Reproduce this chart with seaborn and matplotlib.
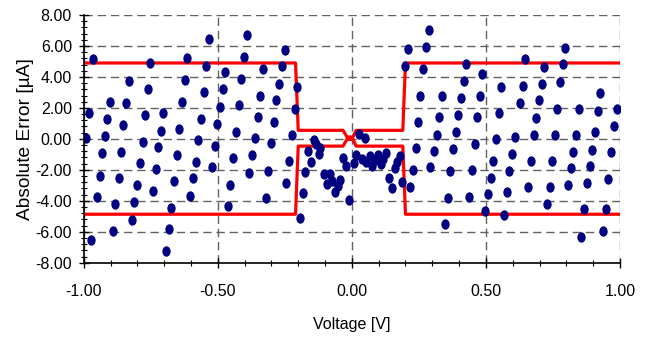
import numpy as np
import pandas as pd
import matplotlib
matplotlib.use("Agg")
import matplotlib.pyplot as plt
from matplotlib.ticker import MultipleLocator, FuncFormatter
from matplotlib.path import Path
import seaborn as sns

# ---- data -------------------------------------------------------------
voltage = [
    -0.965, -0.981, -0.901, -0.831, -0.912, -0.842, -0.852, -0.751, -0.760, -0.771,
    -0.704, -0.713, -0.613, -0.622, -0.633, -0.643, -0.532, -0.543, -0.552, -0.563,
    -0.493, -0.503, -0.991, -0.922, -0.780, -0.722, -0.572, -0.512, -0.931, -0.861,
    -0.653, -0.791, -0.582, -0.521, -0.732, -0.941, -0.870, -0.801, -0.663, -0.592,
    -0.742, -0.951, -0.811, -0.602, -0.882, -0.673, -0.821, -0.890, -0.683, -0.971,
    -0.693,
    -0.392, -0.403, -0.251, -0.472, -0.332, -0.262, -0.412, -0.481, -0.271, -0.342,
    -0.203, -0.422, -0.281, -0.213, -0.351, -0.291, -0.431, -0.222, -0.361, -0.301,
    -0.443, -0.372, -0.382, -0.312, -0.234, -0.453, -0.244, -0.321, -0.461, -0.183,
    -0.194,
    -0.143, -0.133, -0.163, -0.118, -0.122, -0.154, -0.174, -0.103, -0.083, -0.092,
    -0.074, -0.043, -0.052, -0.062, -0.034, -0.022, -0.011, 0.007, 0.017, 0.028,
    0.048, 0.037, 0.053, 0.066, 0.077, 0.087, 0.097, 0.107, 0.117, 0.127,
    0.160, 0.170, 0.178, 0.137, 0.148, 0.188,
    0.208, 0.198, 0.275, 0.266, 0.286, 0.256, 0.247, 0.218, 0.228, 0.239,
    0.290, 0.336, 0.326, 0.316, 0.427, 0.417, 0.487, 0.407, 0.477, 0.397,
    0.466, 0.387, 0.458, 0.306, 0.377, 0.367, 0.447, 0.357, 0.437, 0.346,
    0.508, 0.498,
    0.557, 0.547, 0.537, 0.647, 0.638, 0.627, 0.608, 0.718, 0.708, 0.697,
    0.687, 0.678, 0.796, 0.786, 0.776, 0.766, 0.756, 0.847, 0.837, 0.927,
    0.917, 0.907, 0.987, 0.977, 0.528, 0.599, 0.668, 0.748, 0.826, 0.897,
    0.966, 0.518, 0.587, 0.816, 0.887, 0.658, 0.738, 0.807, 0.877, 0.957,
    0.577, 0.728, 0.567, 0.866, 0.947, 0.856, 0.936,
]
abs_error = [
    5.15, 1.70, 2.35, 3.71, 1.27, 2.29, 0.89, 4.91, 3.23, 1.51,
    1.68, 0.53, 5.23, 3.79, 2.39, 0.62, 6.43, 4.72, 3.02, 1.29,
    2.05, 0.95, 0.05, 0.16, -0.23, -0.52, -0.08, -0.45, -0.92, -0.84,
    -1.03, -1.57, -1.49, -1.85, -1.96, -2.37, -2.56, -2.99, -2.73, -2.56,
    -3.36, -3.75, -4.07, -3.70, -4.24, -4.46, -5.21, -5.94, -5.83, -6.54,
    -7.23,
    6.72, 5.30, 5.75, 4.29, 4.50, 4.68, 3.88, 3.19, 3.55, 2.78,
    3.34, 2.18, 2.48, 1.96, 1.42, 1.08, 0.46, 0.26, 0.05, -0.30,
    -1.25, -1.07, -2.19, -2.06, -1.44, -2.95, -2.82, -3.79, -4.33, -3.49,
    -5.14,
    -0.05, -0.33, -0.80, -0.59, -0.99, -1.47, -2.16, -2.27, -2.30, -2.90,
    -2.70, -2.64, -3.05, -3.42, -1.26, -1.74, -3.92, -1.57, -1.06, 0.33,
    0.08, -1.30, -1.50, -1.14, -1.78, -1.38, -1.02, -1.62, -1.29, -0.89,
    -1.86, -1.50, -1.13, -2.53, -3.16, -2.78,
    5.79, 4.68, 5.93, 4.50, 7.00, 2.79, 1.10, -3.10, -2.02, -0.59,
    -1.85, 2.78, 1.42, 0.28, 4.85, 3.75, 4.18, 2.65, 2.80, 1.53,
    1.38, 0.45, -0.31, -0.79, -0.66, -2.06, -2.02, -3.79, -3.75, -5.49,
    -3.59, -4.69,
    3.38, 1.68, 0.00, 5.13, 3.42, 2.31, 0.15, 4.63, 3.55, 2.48,
    1.34, 0.26, 5.88, 4.81, 3.68, 1.96, 0.26, 1.96, 0.26, 2.93,
    1.79, 0.43, 1.96, 0.84, -1.42, -0.99, -1.46, -1.46, -0.84, -0.69,
    -0.88, -2.54, -2.06, -1.89, -1.76, -3.14, -3.14, -3.01, -2.84, -2.58,
    -3.46, -4.22, -4.91, -4.56, -4.56, -6.33, -5.98,
]

limit_v = [-1.0, -0.21, -0.20, -0.033, -0.018, 0.004, 0.016, 0.19, 0.20, 1.0]
upper_limit = [4.90, 4.90, 0.55, 0.55, 0.12, 0.12, 0.55, 0.55, 4.90, 4.90]
lower_limit = [-4.87, -4.87, -0.47, -0.47, -0.03, -0.03, -0.47, -0.47, -4.87, -4.87]

x_ticks = [-1.0, -0.5, 0.0, 0.5, 1.0]
y_ticks = [-8, -6, -4, -2, 0, 2, 4, 6, 8]

# ---- plot -------------------------------------------------------------
plt.rcParams["font.family"] = ["Liberation Sans", "DejaVu Sans"]
plt.rcParams["font.size"] = 11.5

fig = plt.figure(figsize=(6.51, 3.40), dpi=100)
ax = fig.add_axes([83.7 / 651, 1 - 262.7 / 340, (620 - 83.7) / 651, (262.7 - 15) / 340])

df_pts = pd.DataFrame({"Voltage": voltage, "Error": abs_error})
df_up = pd.DataFrame({"Voltage": limit_v, "Limit": upper_limit})
df_lo = pd.DataFrame({"Voltage": limit_v, "Limit": lower_limit})

red = "#ff0000"
sns.lineplot(data=df_up, x="Voltage", y="Limit", ax=ax, color=red, lw=2.3,
             sort=False, estimator=None, zorder=3)
sns.lineplot(data=df_lo, x="Voltage", y="Limit", ax=ax, color=red, lw=2.3,
             sort=False, estimator=None, zorder=3)

circ = Path.unit_circle()
ellipse = Path(circ.vertices * np.array([0.8, 1.0]), circ.codes)
sns.scatterplot(data=df_pts, x="Voltage", y="Error", ax=ax, color="#000080",
                marker=ellipse, s=56, linewidth=0, zorder=4)

ax.set_xlim(-1.0, 1.0)
ax.set_ylim(-8.0, 8.0)
ax.set_xticks(x_ticks)
ax.set_yticks(y_ticks)
ax.xaxis.set_minor_locator(MultipleLocator(0.1))
ax.yaxis.set_minor_locator(MultipleLocator(0.4))
fmt = FuncFormatter(lambda v, p: f"{v:.2f}")
ax.xaxis.set_major_formatter(fmt)
ax.yaxis.set_major_formatter(fmt)

ax.tick_params(which="major", direction="inout", length=7, width=1.0, color="black",
               labelsize=11.5)
ax.tick_params(which="minor", direction="inout", length=4.5, width=0.8, color="black")
ax.tick_params(axis="x", which="major", pad=12)
ax.tick_params(axis="y", which="major", pad=5)

ax.grid(True, which="major", linestyle=(0, (6, 3.5)), color="#626262", linewidth=1.0,
        zorder=1)
ax.set_axisbelow(True)

for side in ("top", "right"):
    ax.spines[side].set_visible(False)
for side in ("left", "bottom"):
    ax.spines[side].set_color("black")
    ax.spines[side].set_linewidth(1.2)
    ax.spines[side].set_zorder(5)

ax.set_xlabel("Voltage [V]", fontsize=11.5, labelpad=13)
ax.set_ylabel("Absolute Error [µA]", fontsize=13.8, labelpad=1)

fig.savefig("out.png", dpi=100)
